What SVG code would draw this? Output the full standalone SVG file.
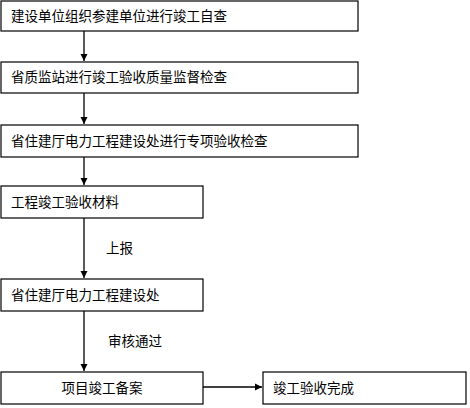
<svg xmlns="http://www.w3.org/2000/svg" width="470" height="408" viewBox="0 0 470 408">
<style>
.box{fill:#fff;stroke:#000;stroke-width:1.2}
.t{font-family:"Liberation Serif","Noto Sans CJK SC",serif;font-size:13.5px;fill:#000}
.c{stroke:#000;stroke-width:1.3;fill:none}
</style>
<defs>
<marker id="ah" markerWidth="8" markerHeight="8" refX="7" refY="4" orient="auto" markerUnits="userSpaceOnUse">
<path d="M0,0.5 L7,4 L0,7.5 Z" fill="#000"/>
</marker>
</defs>
<rect width="470" height="408" fill="#fff"/>
<g id="n1"><rect class="box" x="1" y="1" width="357" height="30"/><text class="t" x="11" y="21">建设单位组织参建单位进行竣工自查</text></g>
<g id="n2"><rect class="box" x="1" y="62" width="357" height="31"/><text class="t" x="11" y="82">省质监站进行竣工验收质量监督检查</text></g>
<g id="n3"><rect class="box" x="1" y="125" width="357" height="32"/><text class="t" x="11" y="146">省住建厅电力工程建设处进行专项验收检查</text></g>
<g id="n4"><rect class="box" x="1" y="186" width="202" height="32"/><text class="t" x="11" y="207">工程竣工验收材料</text></g>
<g id="n5"><rect class="box" x="1" y="279" width="202" height="32"/><text class="t" x="11" y="300">省住建厅电力工程建设处</text></g>
<g id="n6"><rect class="box" x="1" y="372" width="202" height="32"/><text class="t" x="102" y="393" text-anchor="middle">项目竣工备案</text></g>
<g id="n7"><rect class="box" x="263" y="372" width="203" height="32"/><text class="t" x="273" y="393">竣工验收完成</text></g>
<g id="connectors">
<line class="c" x1="84" y1="31" x2="84" y2="61" marker-end="url(#ah)"/>
<line class="c" x1="84" y1="93" x2="84" y2="124" marker-end="url(#ah)"/>
<line class="c" x1="84" y1="157" x2="84" y2="185" marker-end="url(#ah)"/>
<line class="c" x1="84" y1="218" x2="84" y2="278" marker-end="url(#ah)"/>
<line class="c" x1="84" y1="311" x2="84" y2="371" marker-end="url(#ah)"/>
<line class="c" x1="203" y1="387" x2="262" y2="387" marker-end="url(#ah)"/>
<text class="t" x="106" y="253">上报</text>
<text class="t" x="108" y="346">审核通过</text>
</g>
</svg>
